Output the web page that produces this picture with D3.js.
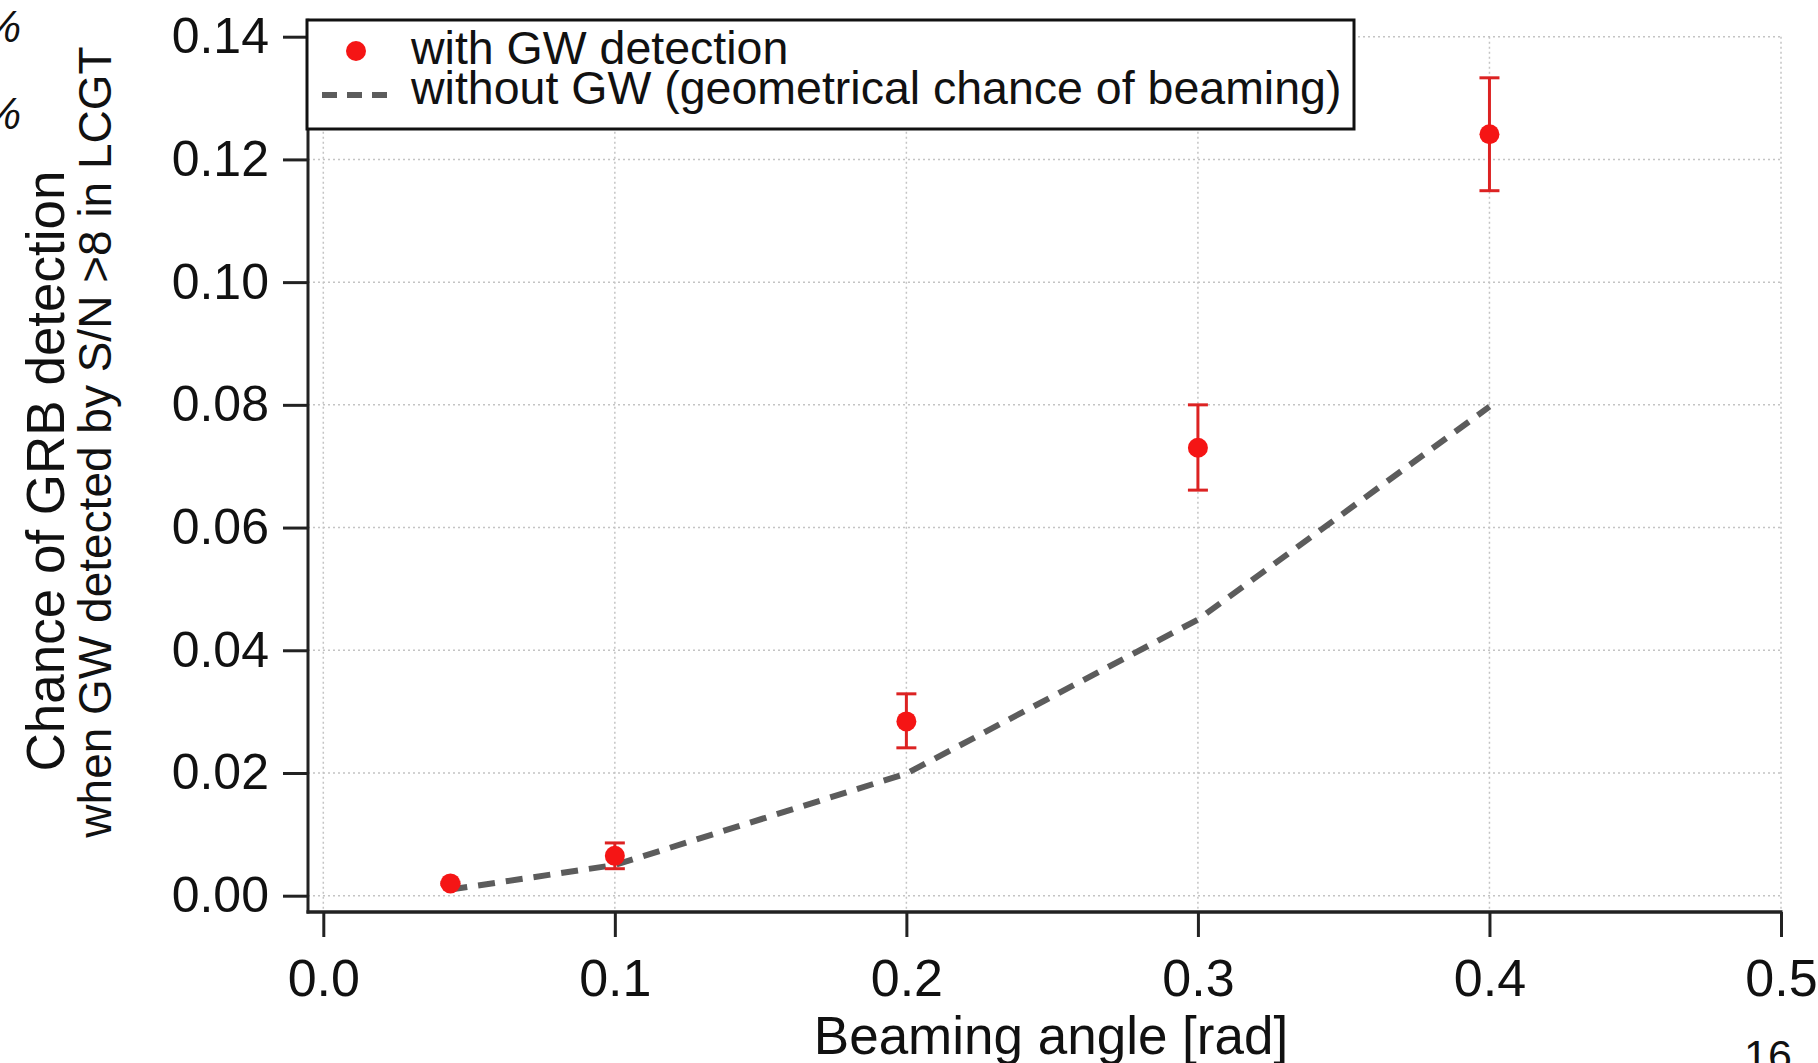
<!DOCTYPE html>
<html>
<head>
<meta charset="utf-8">
<script src="https://cdn.jsdelivr.net/npm/d3@7"></script>
<style>
  html, body { margin: 0; padding: 0; background: #ffffff; overflow: hidden; }
  svg { display: block; }
  text { font-family: "Liberation Sans", Arial, Helvetica, sans-serif; fill: #111; }
</style>
</head>
<body>
<svg id="chart" width="1818" height="1063"></svg>
<script>
// ---- data ----
const beamingAngles = [0.0436, 0.1, 0.2, 0.3, 0.4];          // rad
const withGW        = [0.0020, 0.0065, 0.0284, 0.0730, 0.1241];
const withGWUpper   = [0.0022, 0.0086, 0.0329, 0.0800, 0.1333];
const withGWLower   = [0.0018, 0.0044, 0.0241, 0.0661, 0.1149];
const withoutGWx    = [0.0436, 0.1, 0.2, 0.3, 0.4];
const withoutGW     = [0.0010, 0.0050, 0.0199, 0.0450, 0.0797];
const xTickValues   = [0.0, 0.1, 0.2, 0.3, 0.4, 0.5];
const xTickLabels   = ["0.0", "0.1", "0.2", "0.3", "0.4", "0.5"];
const yTickValues   = [0.00, 0.02, 0.04, 0.06, 0.08, 0.10, 0.12, 0.14];
const yTickLabels   = ["0.00", "0.02", "0.04", "0.06", "0.08", "0.10", "0.12", "0.14"];
const legendLabels  = ["with GW detection", "without GW (geometrical chance of beaming)"];
const xTitle        = "Beaming angle [rad]";
const yTitle1       = "Chance of GRB detection";
const yTitle2       = "when GW detected by S/N >8 in LCGT";

// ---- layout ----
const svg = d3.select("#chart");
const x = d3.scaleLinear().domain([0, 0.5]).range([323.3, 1781]);
const y = d3.scaleLinear().domain([0, 0.14]).range([895.7, 36.7]);
const spineX = 308;
const axisY = 912;
const red = "#f51515";
const errRed = "#dc2222";
const dashGray = "#5c5c5c";

// gridlines
const grid = svg.append("g");
grid.selectAll("line.h").data(yTickValues).join("line")
  .attr("x1", spineX).attr("x2", x(0.5))
  .attr("y1", d => y(d)).attr("y2", d => y(d))
  .attr("stroke", "#c4c4c4").attr("stroke-width", 1.5)
  .attr("stroke-dasharray", "2,3");
grid.selectAll("line.v").data(xTickValues).join("line")
  .attr("x1", d => x(d)).attr("x2", d => x(d))
  .attr("y1", y(0.14)).attr("y2", axisY)
  .attr("stroke", "#c4c4c4").attr("stroke-width", 1.5)
  .attr("stroke-dasharray", "2,3");

// axes: y axis (ticks outward, to the left)
const yAxis = d3.axisLeft(y).tickValues(yTickValues)
  .tickFormat((d, i) => yTickLabels[i]).tickSize(25).tickPadding(14);
const gy = svg.append("g").attr("transform", `translate(${spineX},0)`).call(yAxis);
gy.select(".domain").remove();
gy.selectAll(".tick line").attr("stroke", "#222").attr("stroke-width", 3);
gy.selectAll(".tick text").attr("font-size", 50).attr("fill", "#111")
  .attr("font-family", "Liberation Sans, Arial, sans-serif");
svg.append("line").attr("x1", spineX).attr("x2", spineX)
  .attr("y1", y(0.14) - 18).attr("y2", axisY + 1.5)
  .attr("stroke", "#222").attr("stroke-width", 3);

// x axis (ticks downward)
const xAxis = d3.axisBottom(x).tickValues(xTickValues)
  .tickFormat((d, i) => xTickLabels[i]).tickSize(25).tickPadding(22);
const gx = svg.append("g").attr("transform", `translate(0,${axisY})`).call(xAxis);
gx.select(".domain").remove();
gx.selectAll(".tick line").attr("stroke", "#222").attr("stroke-width", 3);
gx.selectAll(".tick text").attr("font-size", 52).attr("fill", "#111")
  .attr("font-family", "Liberation Sans, Arial, sans-serif");
svg.append("line").attr("x1", spineX - 1.5).attr("x2", x(0.5) + 1.5)
  .attr("y1", axisY).attr("y2", axisY)
  .attr("stroke", "#222").attr("stroke-width", 3.5);

// axis titles
svg.append("text").attr("x", 1051).attr("y", 1054)
  .attr("text-anchor", "middle").attr("font-size", 53).text(xTitle);
svg.append("text").attr("transform", "translate(64,471) rotate(-90)")
  .attr("text-anchor", "middle").attr("font-size", 53).text(yTitle1);
svg.append("text").attr("transform", "translate(111,442) rotate(-90)")
  .attr("text-anchor", "middle").attr("font-size", 46).text(yTitle2);

// dashed "without GW" line
const line = d3.line().x(d => x(d[0])).y(d => y(d[1]));
svg.append("path").datum(d3.zip(withoutGWx, withoutGW))
  .attr("d", line).attr("fill", "none")
  .attr("stroke", dashGray).attr("stroke-width", 6)
  .attr("stroke-dasharray", "17,11");

// error bars
const pts = beamingAngles.map((a, i) => ({a, v: withGW[i], hi: withGWUpper[i], lo: withGWLower[i]}));
const eb = svg.append("g").attr("stroke", errRed).attr("stroke-width", 3);
eb.selectAll("line.stem").data(pts).join("line")
  .attr("x1", d => x(d.a)).attr("x2", d => x(d.a))
  .attr("y1", d => y(d.hi)).attr("y2", d => y(d.lo));
eb.selectAll("line.capT").data(pts).join("line")
  .attr("x1", d => x(d.a) - 10).attr("x2", d => x(d.a) + 10)
  .attr("y1", d => y(d.hi)).attr("y2", d => y(d.hi));
eb.selectAll("line.capB").data(pts).join("line")
  .attr("x1", d => x(d.a) - 10).attr("x2", d => x(d.a) + 10)
  .attr("y1", d => y(d.lo)).attr("y2", d => y(d.lo));

// markers
svg.append("g").selectAll("circle").data(pts).join("circle")
  .attr("cx", d => x(d.a)).attr("cy", d => y(d.v)).attr("r", 10)
  .attr("fill", red);

// legend
const lg = svg.append("g");
lg.append("rect").attr("x", 307).attr("y", 20).attr("width", 1047).attr("height", 109)
  .attr("fill", "#fff").attr("stroke", "#111").attr("stroke-width", 3);
lg.append("circle").attr("cx", 356).attr("cy", 51).attr("r", 10).attr("fill", red);
lg.append("line").attr("x1", 322).attr("x2", 392).attr("y1", 95).attr("y2", 95)
  .attr("stroke", dashGray).attr("stroke-width", 6).attr("stroke-dasharray", "15,10");
lg.selectAll("text").data(legendLabels).join("text")
  .attr("x", 411).attr("y", (d, i) => 64 + i * 40)
  .attr("font-size", 46.5).text(d => d);

// slide residue: cropped glyphs at left edge and page number
svg.append("text").attr("x", 21).attr("y", 42).attr("text-anchor", "end")
  .attr("font-family", "Liberation Serif, serif").attr("font-style", "italic")
  .attr("font-size", 44).text("%");
svg.append("text").attr("x", 21).attr("y", 129).attr("text-anchor", "end")
  .attr("font-family", "Liberation Serif, serif").attr("font-style", "italic")
  .attr("font-size", 44).text("%");
svg.append("text").attr("x", 1744).attr("y", 1070)
  .attr("font-family", "Lato, sans-serif").attr("font-size", 43).text("16");
</script>
</body>
</html>
